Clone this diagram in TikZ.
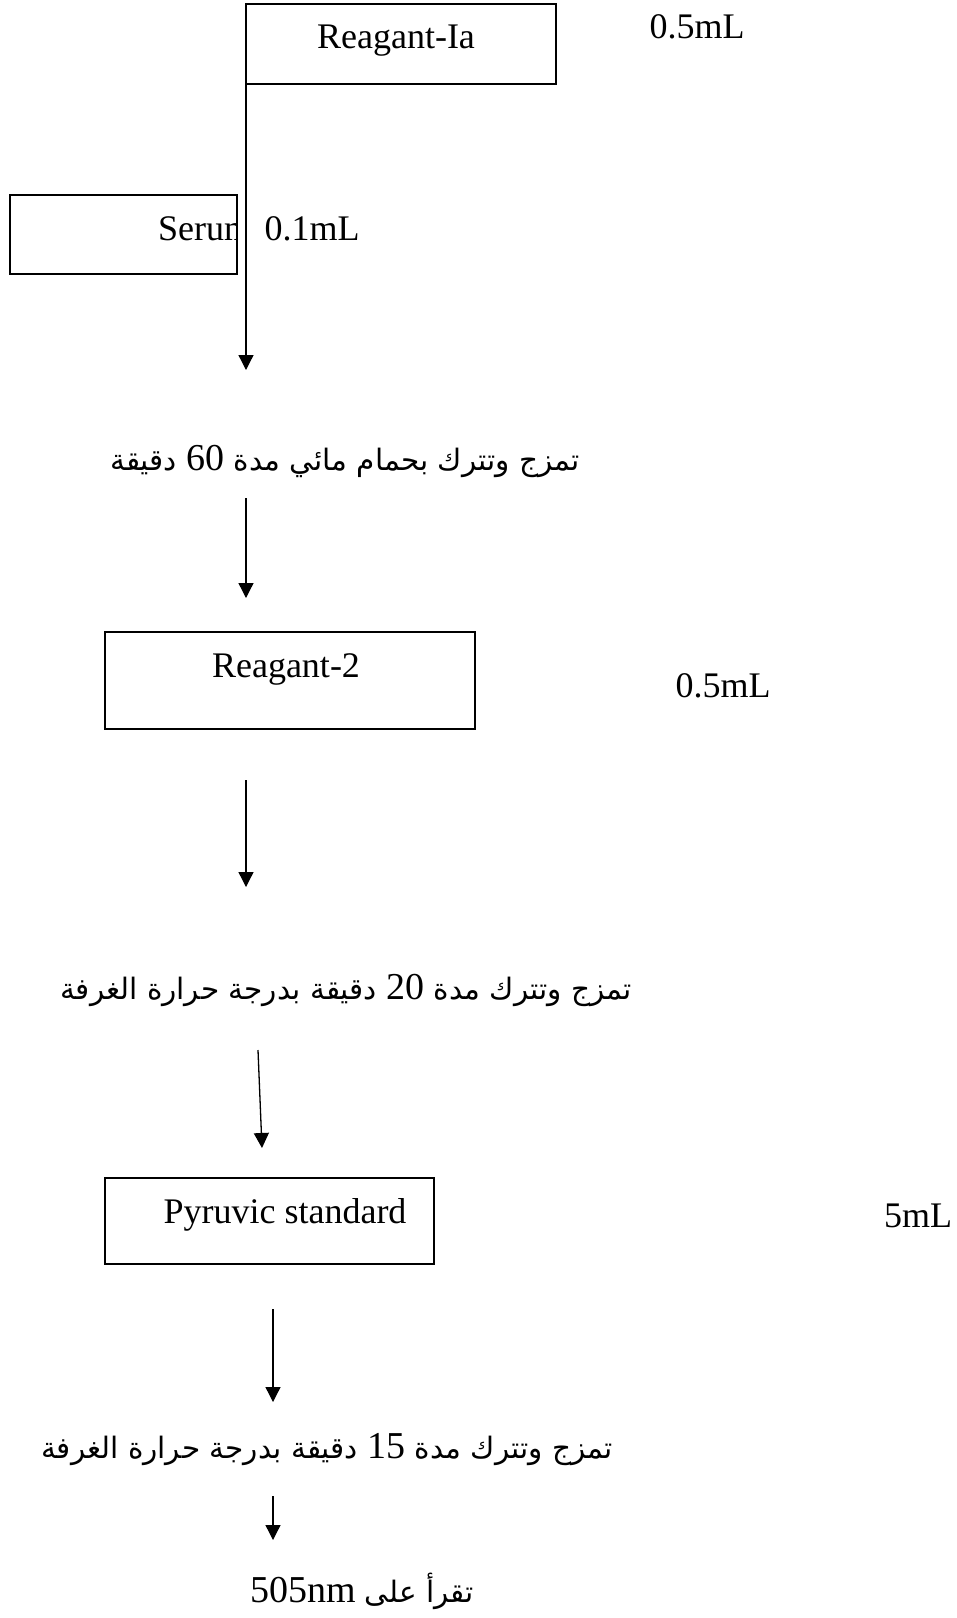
\documentclass[tikz,border=0pt]{standalone}
\usepackage{fontspec}
\setmainfont{Liberation Serif}
\newfontfamily\arabicfont[Script=Arabic]{DejaVu Sans}
\newfontfamily\latinfont{Liberation Serif}
\TeXXeTstate=1
\usetikzlibrary{arrows.meta}
\newcommand{\arbdigits}[1]{{\latinfont\fontsize{38}{40}\selectfont\beginL #1\endL}}
\begin{document}
\begin{tikzpicture}[x=1pt,y=-1pt,
  box/.style={draw=black, line width=1.5pt, inner sep=0pt, outer sep=0pt},
  lbl/.style={anchor=base, inner sep=0pt, font=\fontsize{36}{40}\selectfont},
  arb/.style={anchor=base, inner sep=0pt, font=\fontsize{29.5}{32}\selectfont\arabicfont},
  flow/.style={line width=1.3pt, -{Triangle[length=15pt,width=15pt]}}
]
\useasboundingbox (0,0) rectangle (957,1618);
% boxes
\node[box, minimum width=310, minimum height=80] (r1) at (401,44) {};
\node[box, minimum width=227, minimum height=79] (serum) at (123.5,234.5) {};
\node[box, minimum width=370, minimum height=97] (r2) at (290,680.5) {};
\node[box, minimum width=329, minimum height=86] (pyr) at (269.5,1221) {};
% texts
\node[lbl] (r1t) at (396,48) {Reagant-Ia};
\node[lbl] (v1) at (697,38) {0.5mL};
\begin{scope}
\clip (serum.south west) rectangle (serum.north east);
\node[lbl, anchor=base west] (sert) at (158,240) {Serum};
\end{scope}
\node[lbl] (v2) at (312,240) {0.1mL};
\node[arb] (t1) at (345,470) {\beginR تمزج وتترك بحمام مائي مدة \arbdigits{60} دقيقة\endR};
\node[lbl] (r2t) at (286,677) {Reagant-2};
\node[lbl] (v3) at (723,697) {0.5mL};
\node[arb] (t2) at (346,999) {\beginR تمزج وتترك مدة \arbdigits{20} دقيقة بدرجة حرارة الغرفة\endR};
\node[lbl] (pyrt) at (285,1223) {Pyruvic standard};
\node[lbl] (v4) at (918,1227) {5mL};
\node[arb] (t3) at (327,1458) {\beginR تمزج وتترك مدة \arbdigits{15} دقيقة بدرجة حرارة الغرفة\endR};
\node[arb] (t4) at (362,1602) {\beginR تقرأ على \arbdigits{505nm}\endR};
% connector coordinates
\coordinate (a1) at (246,370);
\coordinate (a2s) at (246,498);
\coordinate (a2e) at (246,598);
\coordinate (a3s) at (246,780);
\coordinate (a3e) at (246,887);
\coordinate (a4s) at (258,1050);
\coordinate (a4e) at (262,1148);
\coordinate (a5s) at (273,1309);
\coordinate (a5e) at (273,1402);
\coordinate (a6s) at (273,1496);
\coordinate (a6e) at (273,1540);
% connectors
\draw[flow] (r1.south west) -- (a1);
\draw[flow] (a2s) -- (a2e);
\draw[flow] (a3s) -- (a3e);
\draw[flow] (a4s) -- (a4e);
\draw[flow] (a5s) -- (a5e);
\draw[flow] (a6s) -- (a6e);
\end{tikzpicture}
\end{document}
